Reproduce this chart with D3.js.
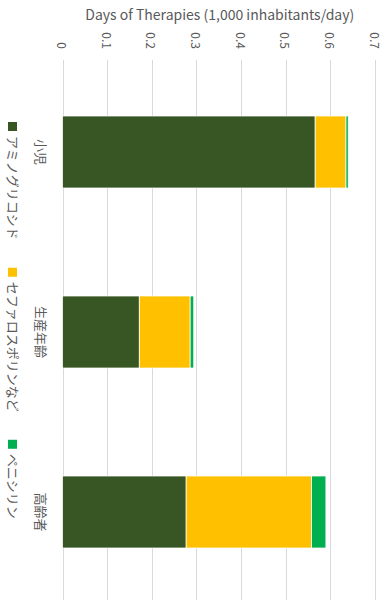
<!DOCTYPE html>
<html><head><meta charset="utf-8">
<script src="https://cdn.jsdelivr.net/npm/d3@7"></script>
<style>
html,body{margin:0;padding:0;background:#fff;}
svg{display:block;font-family:"Noto Sans CJK JP","Noto Sans",sans-serif;}
</style></head>
<body>
<svg id="chart" width="386" height="600"></svg>
<script>
const categories = ["小児", "生産年齢", "高齢者"];
const seriesNames = ["アミノグリコシド", "セファロスポリンなど", "ペニシリン"];
const aminoglycoside = [0.566, 0.172, 0.277];
const cephalosporin = [0.069, 0.114, 0.281];
const penicillin = [0.005, 0.008, 0.032];
const tickValues = [0, 0.1, 0.2, 0.3, 0.4, 0.5, 0.6, 0.7];
const colors = ["#375623", "#FFC000", "#00B050"];
const axisTitle = "Days of Therapies (1,000 inhabitants/day)";

const svg = d3.select("#chart");
const x = d3.scaleLinear().domain([0, 0.7]).range([62.5, 375]);
const y = d3.scaleBand().domain(categories).range([62, 602]).paddingInner(0.6).paddingOuter(0.3);

const textColor = "#595959";

// gridlines
svg.append("g").selectAll("line").data(tickValues).join("line")
  .attr("x1", d => Math.round(x(d)) + 0.5).attr("x2", d => Math.round(x(d)) + 0.5)
  .attr("y1", 60).attr("y2", 600)
  .attr("stroke", "#d9d9d9").attr("stroke-width", 1);

// tick labels (rotated)
svg.append("g").selectAll("text").data(tickValues).join("text")
  .attr("transform", d => `translate(${x(d)},49) rotate(90)`)
  .attr("text-anchor", "end").attr("dominant-baseline", "central")
  .attr("font-size", 12).attr("fill", textColor)
  .text(d => d === 0 ? "0" : d3.format(".1f")(d));

// axis title
svg.append("text")
  .attr("x", (x(0) + x(0.7)) / 2 + 1).attr("y", 14)
  .attr("text-anchor", "middle").attr("dominant-baseline", "central")
  .attr("font-size", 14).attr("fill", textColor)
  .text(axisTitle);

// stacked data
const rows = categories.map((c, i) => ({cat: c, v: [aminoglycoside[i], cephalosporin[i], penicillin[i]]}));
const segs = [];
rows.forEach(r => {
  let acc = 0;
  r.v.forEach((v, k) => { segs.push({cat: r.cat, k, x0: acc, x1: acc + v}); acc += v; });
});
svg.append("g").selectAll("rect").data(segs).join("rect")
  .attr("x", d => x(d.x0)).attr("width", d => x(d.x1) - x(d.x0))
  .attr("y", d => y(d.cat)).attr("height", y.bandwidth())
  .attr("fill", d => colors[d.k])
  .attr("stroke", "#ffffff").attr("stroke-width", 0.75);

// category labels (rotated)
svg.append("g").selectAll("text").data(categories).join("text")
  .attr("transform", d => `translate(41,${y(d) + y.bandwidth() / 2}) rotate(90)`)
  .attr("text-anchor", "middle").attr("dominant-baseline", "central")
  .attr("font-size", 13).attr("fill", textColor)
  .text(d => d);

// legend (rotated, down the left side)
const lg = svg.append("g");
let ly = 122;
seriesNames.forEach((name, k) => {
  lg.append("rect").attr("x", 8).attr("y", ly).attr("width", 9).attr("height", 9).attr("fill", colors[k]);
  const t = lg.append("text")
    .attr("transform", `translate(13,${ly + 14}) rotate(90)`)
    .attr("text-anchor", "start").attr("dominant-baseline", "central")
    .attr("font-size", 13).attr("fill", textColor)
    .text(name);
  const len = t.node().getComputedTextLength();
  ly = ly + 14 + len + 28;
});
</script>
</body></html>
